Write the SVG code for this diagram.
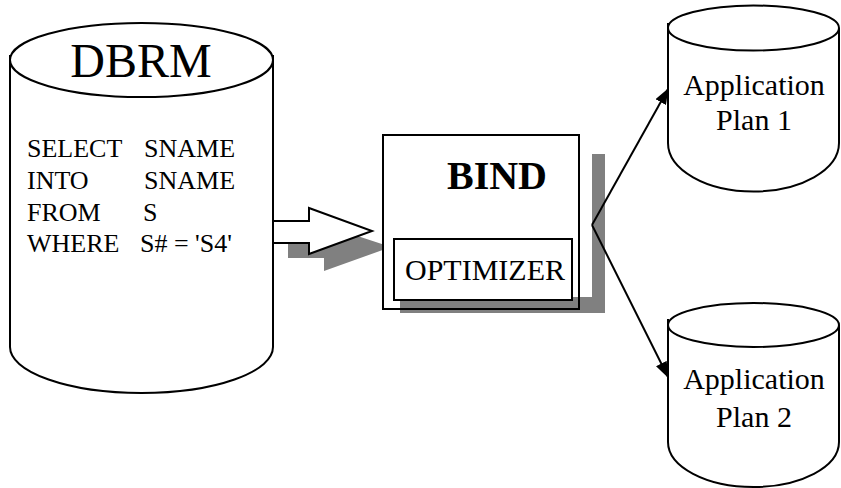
<svg xmlns="http://www.w3.org/2000/svg" width="841" height="488" viewBox="0 0 841 488">
<style>
.ln{fill:none;stroke:#000;stroke-width:2}
.wf{fill:#fff;stroke:#000;stroke-width:2}
.sh{fill:#808080;stroke:none}
text{font-family:"Liberation Serif","Times New Roman",serif;fill:#000}
.sql{font-size:26px}
.app{font-size:30px;text-anchor:middle}
</style>
<defs>
<marker id="ah" markerWidth="16" markerHeight="12" refX="15" refY="6" orient="auto" markerUnits="userSpaceOnUse">
<path d="M0,0 L16,6 L0,12 Z" fill="#000"/>
</marker>
</defs>
<rect width="841" height="488" fill="#fff"/>
<g id="dbrm">
<path class="wf" d="M10,55 L10,347 A131.5,46 0 0 0 273,347 L273,55"/>
<ellipse class="wf" cx="141.5" cy="60" rx="131.5" ry="37"/>
<text x="141" y="77" font-size="48" text-anchor="middle">DBRM</text>
<text class="sql" x="27" y="157">SELECT</text>
<text class="sql" x="144" y="157">SNAME</text>
<text class="sql" x="27" y="189">INTO</text>
<text class="sql" x="144" y="189">SNAME</text>
<text class="sql" x="27" y="221">FROM</text>
<text class="sql" x="143" y="221">S</text>
<text class="sql" x="27" y="252">WHERE</text>
<text class="sql" x="140" y="252">S# = 'S4'</text>
</g>
<g id="flow-arrow">
<polygon class="sh" points="288,258 324,258 324,271 391,247 324,225 324,242 288,242"/>
<polygon class="wf" points="273,221 309,221 309,208 372,231 309,254 309,243 273,243"/>
</g>
<g id="bind">
<rect x="383" y="135" width="196" height="174" fill="#fff"/>
<polygon class="sh" points="592,154 605,154 605,313 400,313 400,297 592,297"/>
<rect class="ln" x="383" y="135" width="196" height="174"/>
<text x="497" y="189" font-size="40" font-weight="bold" text-anchor="middle">BIND</text>
</g>
<g id="optimizer">
<rect class="wf" x="394" y="239" width="178" height="61"/>
<text x="485" y="280" font-size="30" text-anchor="middle">OPTIMIZER</text>
</g>
<g id="plan1">
<path class="wf" d="M668,23 L668,143 A85.5,48.5 0 0 0 839,143 L839,28"/>
<ellipse class="wf" cx="753.5" cy="28" rx="85.5" ry="22.5"/>
<text class="app" x="754" y="95">Application</text>
<text class="app" x="754" y="130">Plan 1</text>
</g>
<g id="plan2">
<path class="wf" d="M668,319 L668,442 A85.5,45 0 0 0 839,442 L839,325"/>
<ellipse class="wf" cx="753.5" cy="325" rx="85.5" ry="22"/>
<text class="app" x="754" y="389">Application</text>
<text class="app" x="754" y="427">Plan 2</text>
</g>
<g id="connectors">
<line class="ln" x1="592" y1="225" x2="668" y2="89" marker-end="url(#ah)"/>
<line class="ln" x1="592" y1="225" x2="668" y2="377" marker-end="url(#ah)"/>
</g>
</svg>
